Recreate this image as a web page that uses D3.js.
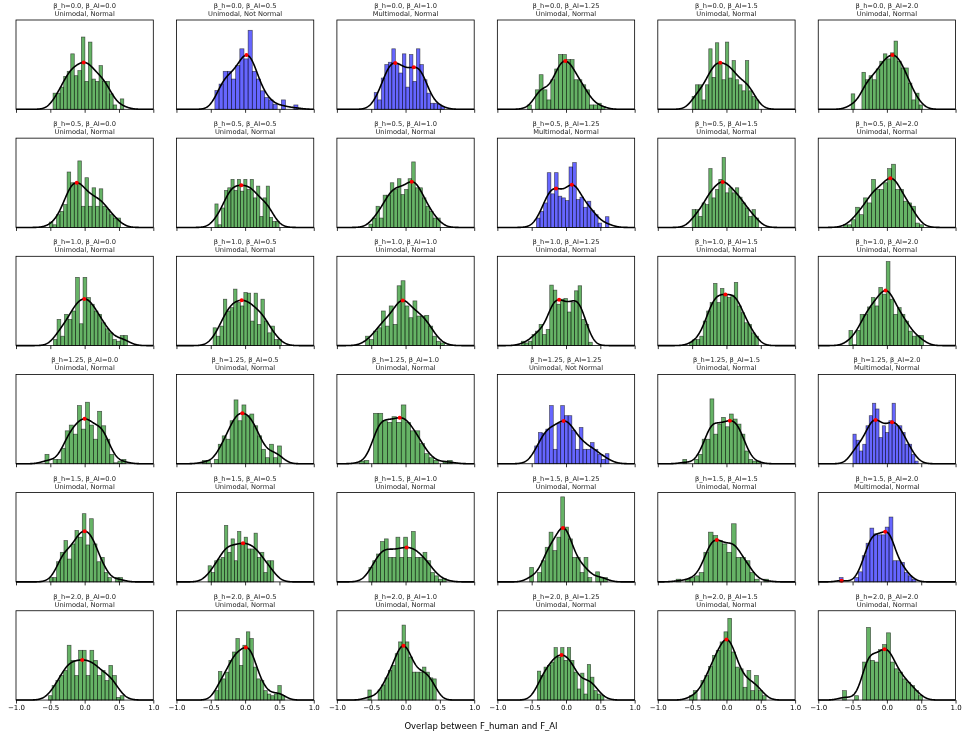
<!DOCTYPE html>
<html>
<head>
<meta charset="utf-8">
<script src="https://cdn.jsdelivr.net/npm/d3@7"></script>
<style>
  body { margin: 0; background: #fff; }
  svg { will-change: transform; }
  text { font-family: "DejaVu Sans", sans-serif; }
</style>
</head>
<body>
<div id="chart"></div>
<script>
// grid parameters (rows = beta_h, columns = beta_AI)
const betaH = ["0.0", "0.5", "1.0", "1.25", "1.5", "2.0"];
const betaAI = ["0.0", "0.5", "1.0", "1.25", "1.5", "2.0"];

const shapeLabels = [
  ["Unimodal, Normal", "Unimodal, Not Normal", "Multimodal, Normal", "Unimodal, Normal", "Unimodal, Normal", "Unimodal, Normal"],
  ["Unimodal, Normal", "Unimodal, Normal", "Unimodal, Normal", "Multimodal, Normal", "Unimodal, Normal", "Unimodal, Normal"],
  ["Unimodal, Normal", "Unimodal, Normal", "Unimodal, Normal", "Unimodal, Normal", "Unimodal, Normal", "Unimodal, Normal"],
  ["Unimodal, Normal", "Unimodal, Normal", "Unimodal, Normal", "Unimodal, Not Normal", "Unimodal, Normal", "Multimodal, Normal"],
  ["Unimodal, Normal", "Unimodal, Normal", "Unimodal, Normal", "Unimodal, Normal", "Unimodal, Normal", "Multimodal, Normal"],
  ["Unimodal, Normal", "Unimodal, Normal", "Unimodal, Normal", "Unimodal, Normal", "Unimodal, Normal", "Unimodal, Normal"]
];

// histogram range [first bin edge, last bin edge] per panel, row by row
const binRanges = [
  [-0.46, 0.57], [-0.44, 0.77], [-0.456, 0.568], [-0.56, 0.57], [-0.50, 0.47], [-0.52, 0.52],
  [-0.515, 0.524], [-0.44, 0.495], [-0.534, 0.505], [-0.432, 0.626], [-0.50, 0.47], [-0.631, 0.534],
  [-0.456, 0.626], [-0.466, 0.529], [-0.583, 0.568], [-0.65, 0.383], [-0.539, 0.466], [-0.553, 0.534],
  [-0.578, 0.602], [-0.621, 0.529], [-0.67, 0.68], [-0.456, 0.626], [-0.636, 0.495], [-0.495, 0.456],
  [-0.515, 0.553], [-0.539, 0.417], [-0.534, 0.592], [-0.529, 0.602], [-0.733, 0.612], [-0.694, 0.422],
  [-0.529, 0.573], [-0.44, 0.578], [-0.549, 0.447], [-0.417, 0.553], [-0.539, 0.578], [-0.646, 0.519]
];

// bar heights (relative density, 20 bins) per panel, row by row
const binHeights = [
  [48, 48, 66, 98, 113, 165, 100, 115, 215, 83, 200, 90, 83, 130, 83, 83, 46, 13, 0, 31],
  [56, 75, 113, 113, 90, 130, 180, 150, 235, 113, 90, 55, 35, 28, 15, 0, 28, 0, 0, 13],
  [50, 28, 93, 133, 140, 180, 133, 108, 165, 66, 163, 83, 180, 133, 88, 48, 18, 18, 15, 8],
  [13, 0, 58, 103, 58, 28, 88, 120, 163, 163, 148, 148, 88, 88, 73, 58, 13, 13, 18, 8],
  [38, 73, 73, 28, 73, 180, 95, 198, 138, 88, 200, 93, 145, 88, 73, 55, 145, 55, 38, 28],
  [46, 0, 0, 110, 88, 100, 88, 120, 143, 165, 150, 168, 203, 143, 123, 123, 78, 28, 48, 13],

  [16, 8, 38, 48, 68, 165, 133, 130, 198, 63, 148, 63, 118, 63, 115, 63, 53, 38, 28, 28],
  [70, 8, 58, 110, 118, 143, 110, 143, 108, 143, 113, 143, 88, 123, 33, 88, 123, 30, 18, 18],
  [10, 28, 63, 28, 96, 96, 133, 113, 145, 98, 113, 145, 195, 118, 118, 88, 63, 48, 28, 28],
  [28, 48, 73, 163, 100, 163, 93, 88, 80, 180, 193, 83, 90, 60, 78, 50, 38, 13, 0, 32],
  [53, 53, 33, 73, 68, 175, 88, 113, 143, 208, 103, 118, 103, 118, 90, 73, 58, 33, 53, 28],
  [8, 8, 23, 60, 38, 88, 73, 143, 113, 113, 133, 175, 188, 113, 113, 78, 73, 63, 13, 8],

  [18, 78, 28, 93, 78, 103, 203, 65, 203, 143, 123, 103, 93, 68, 50, 38, 18, 13, 30, 30],
  [53, 28, 58, 138, 103, 113, 168, 128, 118, 158, 156, 73, 156, 63, 138, 73, 38, 58, 18, 18],
  [28, 18, 43, 53, 103, 58, 118, 63, 178, 193, 118, 83, 133, 88, 88, 90, 58, 28, 13, 8],
  [13, 8, 13, 33, 43, 63, 33, 48, 180, 165, 123, 138, 140, 100, 128, 163, 178, 78, 63, 10],
  [10, 18, 18, 28, 73, 103, 128, 185, 128, 170, 150, 143, 150, 188, 118, 98, 68, 63, 38, 28],
  [45, 3, 45, 93, 93, 115, 143, 118, 173, 153, 250, 138, 93, 113, 93, 73, 43, 28, 30, 30],

  [28, 0, 13, 13, 46, 98, 115, 88, 173, 103, 183, 115, 73, 156, 113, 73, 28, 3, 8, 13],
  [10, 10, 0, 13, 58, 83, 73, 128, 190, 128, 175, 143, 148, 113, 83, 43, 18, 58, 18, 53],
  [8, 10, 0, 150, 150, 128, 123, 140, 123, 175, 123, 98, 98, 60, 30, 18, 10, 0, 8, 10],
  [53, 93, 91, 103, 173, 43, 120, 173, 143, 143, 100, 43, 108, 43, 43, 63, 43, 28, 13, 30],
  [13, 0, 0, 13, 28, 73, 73, 193, 88, 118, 138, 110, 148, 133, 118, 88, 38, 13, 8, 8],
  [88, 70, 38, 58, 113, 143, 180, 163, 78, 113, 93, 128, 180, 113, 113, 93, 58, 58, 28, 8],

  [13, 13, 60, 88, 123, 68, 113, 153, 133, 203, 110, 188, 113, 60, 73, 28, 13, 0, 13, 13],
  [48, 28, 63, 68, 73, 168, 88, 128, 63, 150, 113, 133, 98, 98, 145, 73, 88, 28, 63, 63],
  [43, 63, 83, 120, 128, 73, 73, 133, 73, 133, 73, 150, 73, 73, 88, 63, 28, 18, 8, 10],
  [43, 0, 28, 63, 103, 148, 93, 133, 253, 163, 128, 73, 73, 28, 73, 13, 0, 30, 13, 13],
  [8, 0, 8, 13, 18, 28, 88, 148, 138, 123, 113, 88, 173, 73, 73, 63, 28, 8, 0, 8],
  [13, 0, 0, 0, 13, 30, 78, 115, 160, 143, 140, 140, 163, 193, 63, 63, 58, 28, 18, 8],

  [13, 43, 58, 73, 88, 163, 118, 73, 148, 148, 73, 148, 118, 73, 88, 58, 103, 73, 8, 13],
  [28, 85, 63, 83, 118, 143, 183, 103, 163, 203, 183, 98, 63, 58, 28, 18, 13, 18, 43, 13],
  [30, 0, 0, 30, 45, 66, 88, 103, 138, 173, 223, 173, 128, 83, 83, 83, 98, 83, 66, 63],
  [86, 73, 98, 103, 113, 156, 128, 156, 118, 156, 118, 83, 33, 80, 18, 106, 68, 28, 18, 13],
  [13, 28, 0, 58, 73, 100, 133, 148, 173, 203, 243, 143, 98, 93, 38, 88, 28, 73, 28, 13],
  [28, 0, 0, 13, 0, 113, 216, 118, 113, 150, 165, 200, 113, 93, 83, 63, 53, 43, 28, 13]
];

const xTicks = [-1, -0.5, 0, 0.5, 1];
const xTickLabels = ["\u22121.0", "\u22120.5", "0.0", "0.5", "1.0"];
const nSamples = 70;   // sample size used for the KDE bandwidth (Scott)

const width = 962, height = 738;
const marginLeft = 16, marginTop = 20;
const panelW = 137.3, panelH = 89.3;
const stepX = 160.45, stepY = 118.15;

const svg = d3.select("#chart").append("svg")
    .attr("width", width)
    .attr("height", height);

const x = d3.scaleLinear().domain([-1, 1]).range([0, panelW]);
const yMax = d3.max(binHeights, d => d3.max(d)) * 1.05;
const y = d3.scaleLinear().domain([0, yMax]).range([panelH, 0]);

const xs = d3.range(401).map(i => -1 + i * 0.005);

// gaussian kde of the binned values, scaled to the same area as the bars
function kde(heights, lo, hi) {
  const w = (hi - lo) / heights.length;
  const centers = heights.map((h, i) => lo + (i + 0.5) * w);
  const total = d3.sum(heights);
  const mean = d3.sum(heights, (h, i) => h * centers[i]) / total;
  const sd = Math.sqrt(d3.sum(heights, (h, i) => h * (centers[i] - mean) ** 2) / total);
  const bw = sd * Math.pow(nSamples, -0.2);
  const norm = w / (bw * Math.sqrt(2 * Math.PI));
  return xs.map(v => [v, norm * d3.sum(heights, (h, i) => h * Math.exp(-0.5 * ((v - centers[i]) / bw) ** 2))]);
}

const line = d3.line().x(d => x(d[0])).y(d => y(d[1]));

binHeights.forEach((heights, k) => {
  const row = Math.floor(k / 6), col = k % 6;
  const [lo, hi] = binRanges[k];
  const w = (hi - lo) / heights.length;
  const label = shapeLabels[row][col];
  const color = label === "Unimodal, Normal" ? "#008000" : "#0000ff";

  const g = svg.append("g")
      .attr("transform", `translate(${marginLeft + col * stepX},${marginTop + row * stepY})`);

  g.selectAll("rect.bar")
    .data(heights.map((h, i) => ({x0: lo + i * w, x1: lo + (i + 1) * w, h})).filter(d => d.h > 0))
    .enter().append("rect")
      .attr("class", "bar")
      .attr("x", d => x(d.x0))
      .attr("width", d => x(d.x1) - x(d.x0))
      .attr("y", d => y(d.h))
      .attr("height", d => y(0) - y(d.h))
      .attr("fill", color)
      .attr("fill-opacity", 0.6)
      .attr("stroke", "#000")
      .attr("stroke-opacity", 0.6)
      .attr("stroke-width", 0.7);

  const curve = kde(heights, lo, hi);
  g.append("path")
      .attr("d", line(curve))
      .attr("fill", "none")
      .attr("stroke", "#000")
      .attr("stroke-width", 1.6);

  // local maxima of the kde; a unimodal panel only marks its main mode
  const maxima = curve.filter((p, i) => i > 0 && i < curve.length - 1 &&
      p[1] > curve[i - 1][1] && p[1] >= curve[i + 1][1]);
  const peaks = label.startsWith("Unimodal") ? [d3.greatest(maxima, d => d[1])] : maxima;

  g.selectAll("circle.peak")
    .data(peaks)
    .enter().append("circle")
      .attr("class", "peak")
      .attr("cx", d => x(d[0]))
      .attr("cy", d => y(d[1]))
      .attr("r", 2)
      .attr("fill", "#ff0000");

  const axis = g.append("g")
      .attr("transform", `translate(0,${panelH})`)
      .call(d3.axisBottom(x)
        .tickValues(xTicks)
        .tickSize(3.5)
        .tickSizeOuter(0)
        .tickFormat((d, i) => row === 5 ? xTickLabels[i] : ""));
  axis.select(".domain").remove();
  axis.selectAll(".tick line").attr("stroke", "#000").attr("stroke-width", 0.8);
  axis.selectAll(".tick text")
      .attr("font-family", "DejaVu Sans, sans-serif")
      .attr("font-size", 7)
      .attr("fill", "#000")
      .attr("dy", "0.75em")
      .attr("y", 5);

  g.append("rect")
      .attr("width", panelW)
      .attr("height", panelH)
      .attr("fill", "none")
      .attr("stroke", "#000")
      .attr("stroke-width", 0.8);

  g.append("text")
      .attr("x", panelW / 2)
      .attr("y", -12)
      .attr("text-anchor", "middle")
      .attr("font-size", 6.7)
      .attr("fill", "#222")
      .text(`β_h=${betaH[row]}, β_AI=${betaAI[col]}`);
  g.append("text")
      .attr("x", panelW / 2)
      .attr("y", -4)
      .attr("text-anchor", "middle")
      .attr("font-size", 6.7)
      .attr("fill", "#222")
      .text(label);
});

svg.append("text")
    .attr("x", 481)
    .attr("y", 729)
    .attr("text-anchor", "middle")
    .attr("font-size", 8.5)
    .text("Overlap between F_human and F_AI");
</script>
</body>
</html>
